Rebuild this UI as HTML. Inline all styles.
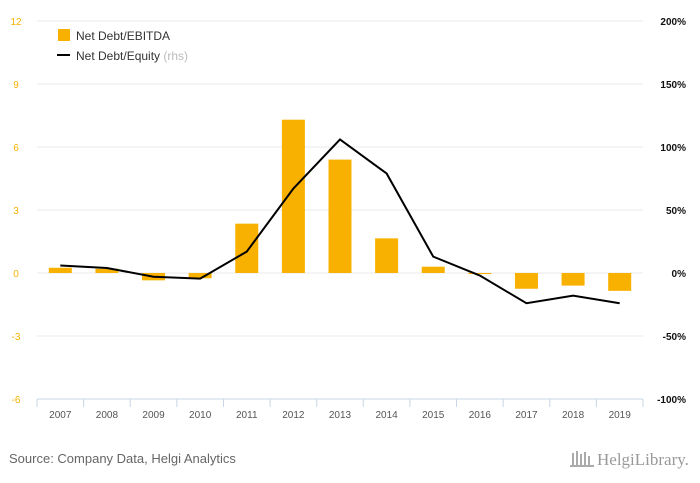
<!DOCTYPE html>
<html><head><meta charset="utf-8"><style>
body{margin:0;width:700px;height:483px;background:#fff;font-family:"Liberation Sans",sans-serif;overflow:hidden}
svg{display:block}
</style></head><body>
<svg id="c" width="700" height="483">
<g id="grid"></g><g id="bars"></g><g id="line"></g><g id="axes"></g>
<g>
<rect x="58" y="29" width="12" height="12" fill="#f8b100"/>
<text x="76" y="40" font-size="12" fill="#333">Net Debt/EBITDA</text>
<line x1="57" y1="55" x2="70" y2="55" stroke="#000" stroke-width="2"/>
<text x="76" y="60" font-size="12" fill="#333">Net Debt/Equity <tspan fill="#bbb">(rhs)</tspan></text>
</g>
<text x="9" y="463" font-size="13" fill="#666">Source: Company Data, Helgi Analytics</text>
<text x="597" y="465" font-size="17" fill="#999" font-family="Liberation Serif,serif">HelgiLibrary.</text>
<g fill="#aaa"><rect x="572" y="453" width="2" height="13"/><rect x="576" y="451" width="2" height="15"/><rect x="580" y="454" width="2" height="12"/><rect x="584" y="452" width="2" height="14"/><rect x="588" y="456" width="2" height="10"/><rect x="570" y="465" width="24" height="2"/></g>
</svg>
<script>
const categories=["2007","2008","2009","2010","2011","2012","2013","2014","2015","2016","2017","2018","2019"];
const debtEbitda=[0.25,0.2,-0.35,-0.25,2.35,7.3,5.4,1.65,0.3,-0.05,-0.75,-0.6,-0.85];
const debtEquity=[6,4,-3,-4.5,17,67,106,79,13,-2,-24,-18,-24];
const leftTicks=[12,9,6,3,0,-3,-6];
const rightTicks=["200%","150%","100%","50%","0%","-50%","-100%"];
const rightVals=[200,150,100,50,0,-50,-100];
const NS="http://www.w3.org/2000/svg";
const x0=37,x1=643,band=(x1-x0)/categories.length;
const yL=v=>273-v*21, yR=v=>273-v*1.26, xc=i=>x0+band*(i+0.5);
function mk(p,t,a){const e=document.createElementNS(NS,t);for(const k in a)e.setAttribute(k,a[k]);document.getElementById(p).appendChild(e);return e;}
leftTicks.forEach((v,i)=>{
 const g=mk('grid','line',{x1:x0,x2:x1,y1:yL(v),y2:yL(v),stroke:v===-6?'#c9d4e6':'#e8e8e8'});
 
 
 const t=mk('axes','text',{x:16,y:yL(v)+4,'font-size':10,fill:'#f8b100','text-anchor':'middle'});t.textContent=v;
 
 
 const r=mk('axes','text',{x:686,y:yR(rightVals[i])+4,'font-size':10,fill:'#111','text-anchor':'end','font-weight':'bold'});r.textContent=rightTicks[i];
 
 
});
categories.forEach((c,i)=>{
 const v=debtEbitda[i];
 const b=mk('bars','rect',{x:xc(i)-11.5,width:23,y:Math.min(yL(v),yL(0)),height:Math.abs(yL(v)-yL(0)),fill:'#f8b100'});
 
 
 const tk=mk('axes','line',{x1:x0+band*i,x2:x0+band*i,y1:399,y2:407,stroke:'#c9d4e6'});
 
 
 const t=mk('axes','text',{x:xc(i),y:418,'font-size':10,fill:'#555','text-anchor':'middle'});t.textContent=c;
 
 
});
const te=mk('axes','line',{x1:x1,x2:x1,y1:399,y2:407,stroke:'#c9d4e6'});


const pl=mk('line','polyline',{points:debtEquity.map((v,i)=>xc(i)+','+yR(v)).join(' '),fill:'none',stroke:'#000','stroke-width':2});


</script>
</body></html>
